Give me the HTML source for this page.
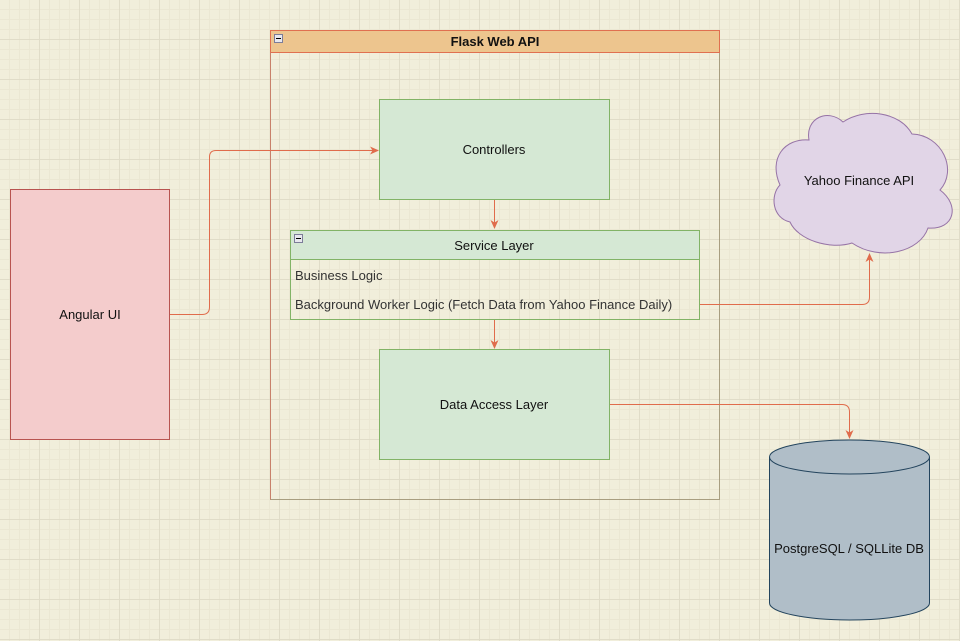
<!DOCTYPE html>
<html><head><meta charset="utf-8"><style>
html,body{margin:0;padding:0;background:#f1eedb;}
svg{display:block;font-family:"Liberation Sans",Helvetica,Arial,sans-serif;}
</style></head><body>
<svg width="960" height="641" viewBox="0 0 960 641" xmlns="http://www.w3.org/2000/svg">
<defs>
<pattern id="minor" width="10" height="10" patternUnits="userSpaceOnUse" x="-1" y="-1">
<path d="M0 0.5H10M0.5 0V10" stroke="#ebe7d3" stroke-width="1" fill="none"/>
</pattern>
<pattern id="major" width="40" height="40" patternUnits="userSpaceOnUse" x="-1" y="-1">
<path d="M0 0.5H40M0.5 0V40" stroke="#e0dcc8" stroke-width="1" fill="none"/>
</pattern>
<marker id="ar" markerWidth="10" markerHeight="10" refX="8" refY="5" orient="auto" markerUnits="userSpaceOnUse">
<path d="M0 1 L9 5 L0 9 L2.5 5 Z" fill="#e06c4c"/>
</marker>
</defs>
<rect width="960" height="641" fill="#f1eedb"/>
<rect width="960" height="641" fill="url(#minor)"/>
<rect width="960" height="641" fill="url(#major)"/>

<rect x="270.5" y="30.5" width="449" height="469" fill="none" stroke="#a89e80"/>
<rect x="270.5" y="30.5" width="449" height="22" fill="#edc58e" stroke="#e07050"/>
<line x1="270.5" y1="52.5" x2="270.5" y2="499.5" stroke="#c8806a"/>
<rect x="274.5" y="34.5" width="8" height="8" fill="#e8e8ee" stroke="#7d7d99"/>
<line x1="276" y1="38.5" x2="281" y2="38.5" stroke="#000"/>
<text x="495" y="46" font-size="13" font-weight="bold" text-anchor="middle" fill="#111">Flask Web API</text>

<rect x="379.5" y="99.5" width="230" height="100" fill="#d5e8d4" stroke="#82b366"/>
<text x="494" y="154" font-size="13" text-anchor="middle" fill="#111">Controllers</text>

<rect x="290.5" y="230.5" width="409" height="89" fill="none" stroke="#82b366"/>
<rect x="290.5" y="230.5" width="409" height="29" fill="#d5e8d4" stroke="#82b366"/>
<rect x="294.5" y="234.5" width="8" height="8" fill="#e8e8ee" stroke="#7d7d99"/>
<line x1="296" y1="238.5" x2="301" y2="238.5" stroke="#000"/>
<text x="494" y="250" font-size="13" text-anchor="middle" fill="#111">Service Layer</text>
<text x="295" y="280" font-size="13" fill="#333">Business Logic</text>
<text x="295" y="309" font-size="13" fill="#333">Background Worker Logic (Fetch Data from Yahoo Finance Daily)</text>

<rect x="379.5" y="349.5" width="230" height="110" fill="#d5e8d4" stroke="#82b366"/>
<text x="494" y="409" font-size="13" text-anchor="middle" fill="#111">Data Access Layer</text>

<rect x="10.5" y="189.5" width="159" height="250" fill="#f4cccc" stroke="#b85450"/>
<text x="90" y="319" font-size="13" text-anchor="middle" fill="#111">Angular UI</text>

<path d="M809 140 C785 138,768 158,780 185 C770 195,772 218,790 222 C798 240,830 250,852 243 C880 262,920 252,928 228 C955 230,960 205,940 190 C958 170,942 135,912 134 C900 112,865 107,843 122 C828 108,805 118,809 140 Z" fill="#e1d5e7" stroke="#9673a6"/>
<text x="859" y="185" font-size="13" text-anchor="middle" fill="#111">Yahoo Finance API</text>

<path d="M769.5 457 L769.5 603 A80 17 0 0 0 929.5 603 L929.5 457" fill="#b0bec8" stroke="#23445d"/>
<ellipse cx="849.5" cy="457" rx="80" ry="17" fill="#b0bec8" stroke="#23445d"/>
<text x="849" y="553" font-size="13" text-anchor="middle" fill="#111">PostgreSQL / SQLLite DB</text>

<g fill="none" stroke="#e06c4c" stroke-width="1">
<path d="M170 314.5 H202 Q209.5 314.5 209.5 307 V157 Q209.5 150.5 216 150.5 H378" marker-end="url(#ar)"/>
<path d="M494.5 200 V228" marker-end="url(#ar)"/>
<path d="M494.5 320 V348" marker-end="url(#ar)"/>
<path d="M700 304.5 H862 Q869.5 304.5 869.5 297 V254" marker-end="url(#ar)"/>
<path d="M610 404.5 H842 Q849.5 404.5 849.5 412 V438" marker-end="url(#ar)"/>
</g>
</svg>
</body></html>
